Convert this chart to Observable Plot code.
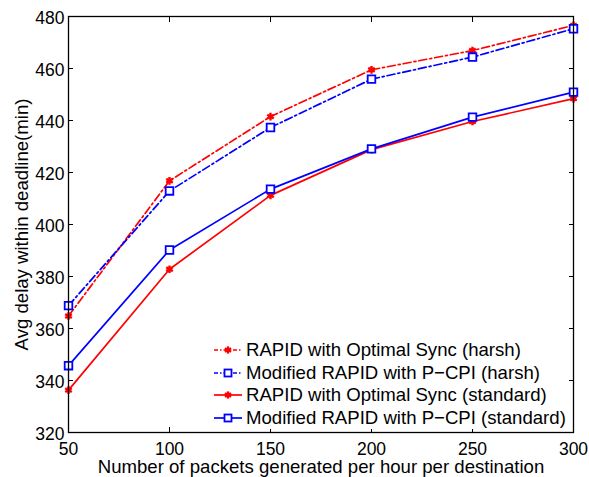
<!DOCTYPE html>
<html>
<head>
<meta charset="utf-8">
<script src="https://cdn.jsdelivr.net/npm/d3@7"></script>
<script src="https://cdn.jsdelivr.net/npm/@observablehq/plot@0.6"></script>
<style>
  html, body { margin: 0; padding: 0; background: #fff; }
  #wrap { position: relative; width: 589px; height: 477px; font-family: "Liberation Sans", Arial, Helvetica, sans-serif; }
  #legend { position: absolute; left: 210px; top: 339px; background: #fff; padding: 0 3px 0 3px; }
  .row { display: flex; align-items: center; height: 22.5px; font-size: 18.6px; color: #000; white-space: nowrap; }
  .row svg { margin-right: 3px; }
</style>
</head>
<body>
<div id="wrap"></div>
<script>
const packets = [50, 100, 150, 200, 250, 300];
const rapidHarsh = [364.8, 416.8, 441.5, 459.5, 466.9, 476.6];
const pcpiHarsh = [368.8, 412.9, 437.3, 455.9, 464.4, 475.3];
const rapidStandard = [336.3, 382.8, 411.2, 428.8, 439.6, 448.4];
const pcpiStandard = [345.7, 390.2, 413.6, 429.1, 441.3, 450.9];
const seriesNames = [
  "RAPID with Optimal Sync (harsh)",
  "Modified RAPID with P\u2212CPI (harsh)",
  "RAPID with Optimal Sync (standard)",
  "Modified RAPID with P\u2212CPI (standard)"
];
const seriesColors = ["#ff0000", "#0000ff", "#ff0000", "#0000ff"];
const seriesDash = ["8,3,2,3", "8,3,2,3", null, null];
const seriesSymbol = ["asterisk", "square", "asterisk", "square"];
const yTicks = [320, 340, 360, 380, 400, 420, 440, 460, 480];
const xTicks = [50, 100, 150, 200, 250, 300];

const allValues = [rapidHarsh, pcpiHarsh, rapidStandard, pcpiStandard];
const rows = [];
allValues.forEach((vals, s) => vals.forEach((v, i) => rows.push({series: s, x: packets[i], y: v})));

const marks = [];
allValues.forEach((vals, s) => {
  const d = rows.filter(r => r.series === s);
  marks.push(Plot.line(d, {x: "x", y: "y", stroke: seriesColors[s], strokeWidth: 1.7, strokeDasharray: seriesDash[s]}));
  if (seriesSymbol[s] === "asterisk") {
    marks.push(Plot.dot(d, {x: "x", y: "y", symbol: "asterisk", r: 3.6, stroke: seriesColors[s], strokeWidth: 2.4}));
  } else {
    marks.push(Plot.dot(d, {x: "x", y: "y", symbol: "square", r: 4.3, stroke: seriesColors[s], fill: "white", strokeWidth: 1.8}));
  }
});

const FS = 18.6;
const TFS = 17.5;
const plot = Plot.plot({
  width: 589,
  height: 477,
  marginLeft: 68,
  marginRight: 16,
  marginTop: 16,
  marginBottom: 45,
  style: {fontFamily: "'Liberation Sans', Arial, Helvetica, sans-serif", fontSize: FS + "px", color: "black", background: "white", overflow: "visible"},
  x: {domain: [50, 300]},
  y: {domain: [320, 480]},
  marks: [
    ...marks,
    Plot.frame({stroke: "black", strokeWidth: 1.3}),
    Plot.axisY(yTicks, {anchor: "left", tickSize: 0, tickPadding: 4, dy: 1.5, label: null, fontSize: TFS}),
    Plot.axisY(yTicks, {anchor: "left", tickSize: -5, text: null, label: null}),
    Plot.axisY(yTicks, {anchor: "right", tickSize: -5, text: null, label: null}),
    Plot.axisX(xTicks, {anchor: "bottom", tickSize: 0, tickPadding: 10.5, label: null, fontSize: TFS}),
    Plot.axisX(xTicks, {anchor: "bottom", tickSize: -5, text: null, label: null}),
    Plot.axisX(xTicks, {anchor: "top", tickSize: -5, text: null, label: null}),
    Plot.text(["Number of packets generated per hour per destination"], {frameAnchor: "bottom", textAnchor: "middle", lineAnchor: "middle", dy: 34.3, fontSize: FS, text: d => d}),
    Plot.text(["Avg delay within deadline(min)"], {frameAnchor: "left", textAnchor: "middle", lineAnchor: "middle", dx: -46, rotate: -90, fontSize: FS, text: d => d})
  ]
});

const wrap = document.getElementById("wrap");
wrap.appendChild(plot);

const legend = document.createElement("div");
legend.id = "legend";
seriesNames.forEach((name, s) => {
  const row = document.createElement("div");
  row.className = "row";
  const sw = d3.create("svg").attr("width", 30).attr("height", 12);
  sw.append("line").attr("x1", 1).attr("x2", 29).attr("y1", 6).attr("y2", 6)
    .attr("stroke", seriesColors[s]).attr("stroke-width", 1.7)
    .attr("stroke-dasharray", seriesDash[s] ? "4,2,1.5,2" : null);
  if (seriesSymbol[s] === "asterisk") {
    const g = sw.append("g").attr("stroke", seriesColors[s]).attr("stroke-width", 2.4);
    d3.range(3).forEach(k => {
      const a = Math.PI / 3 * k + Math.PI / 2;
      g.append("line").attr("x1", 15 + 3.6 * Math.cos(a)).attr("y1", 6 + 3.6 * Math.sin(a))
        .attr("x2", 15 - 3.6 * Math.cos(a)).attr("y2", 6 - 3.6 * Math.sin(a));
    });
  } else {
    sw.append("rect").attr("x", 11.5).attr("y", 2.5).attr("width", 7).attr("height", 7)
      .attr("fill", "white").attr("stroke", seriesColors[s]).attr("stroke-width", 1.8);
  }
  row.appendChild(sw.node());
  const t = document.createElement("span");
  t.textContent = name;
  row.appendChild(t);
  legend.appendChild(row);
});
wrap.appendChild(legend);
</script>
</body>
</html>
